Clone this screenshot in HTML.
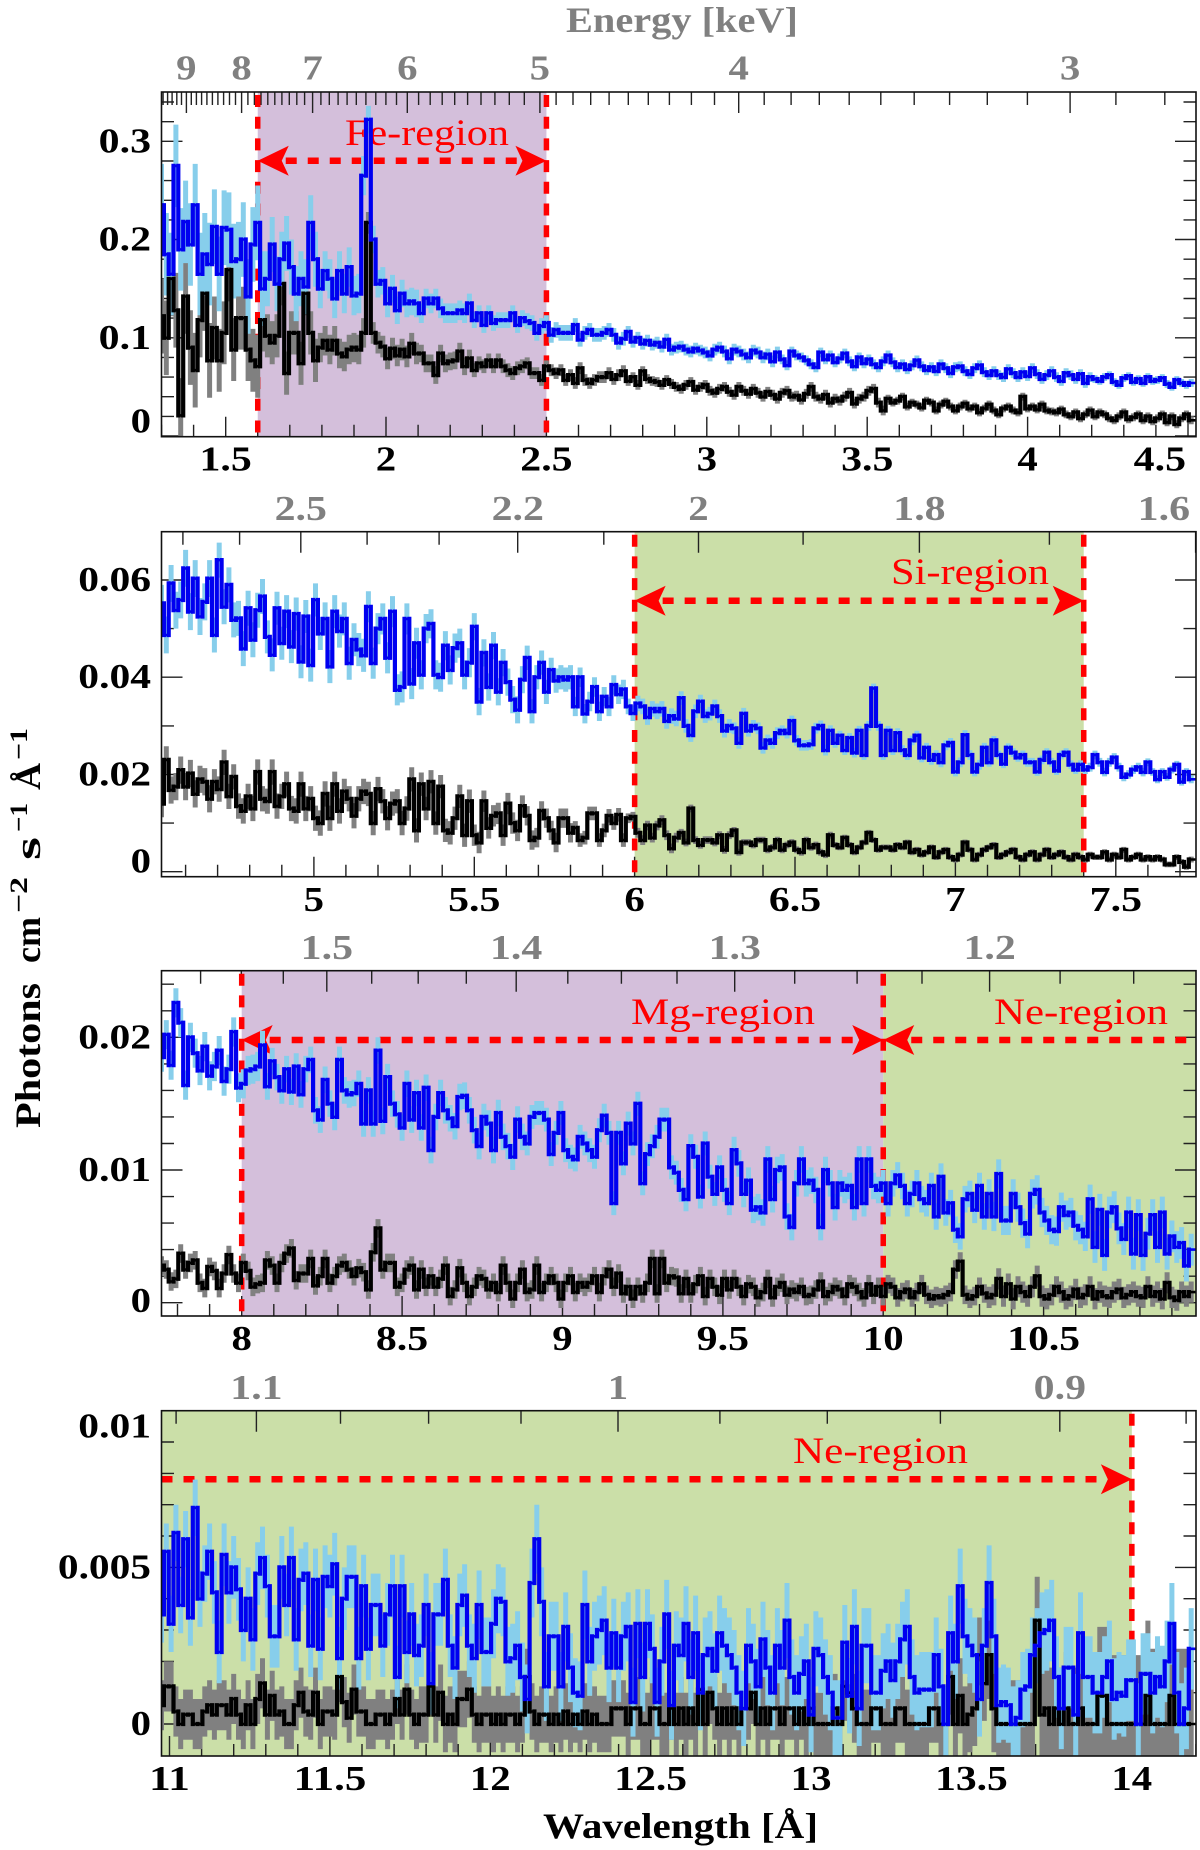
<!DOCTYPE html>
<html lang="en">
<head>
<meta charset="utf-8">
<title>X-ray spectrum by wavelength</title>
<style>
html,body{margin:0;padding:0;background:#fff;width:1200px;height:1850px;overflow:hidden}
svg{display:block}
text{font-family:"Liberation Serif",serif}
.tk{font-weight:bold;font-size:35px}
.ttl{font-weight:bold;font-size:36px}
.sup{font-weight:bold;font-size:25px}
</style>
</head>
<body>
<svg id="chart" width="1200" height="1850" viewBox="0 0 1200 1850">
<text class="ttl" x="566" y="32" fill="#808080" textLength="232" lengthAdjust="spacingAndGlyphs">Energy [keV]</text>
<text class="ttl" x="543" y="1838" fill="#000" textLength="275" lengthAdjust="spacingAndGlyphs">Wavelength [Å]</text>
<g transform="translate(40,0) rotate(-90)">
<text class="ttl" x="-1128" y="0" fill="#000" textLength="145" lengthAdjust="spacingAndGlyphs">Photons</text>
<text class="ttl" x="-963" y="0" fill="#000" textLength="46" lengthAdjust="spacingAndGlyphs">cm</text>
<text class="sup" x="-913" y="-13" fill="#000" textLength="36" lengthAdjust="spacingAndGlyphs">−2</text>
<text class="ttl" x="-860" y="0" fill="#000" textLength="23" lengthAdjust="spacingAndGlyphs">s</text>
<text class="sup" x="-832" y="-13" fill="#000" textLength="29" lengthAdjust="spacingAndGlyphs">−1</text>
<text class="ttl" x="-790" y="0" fill="#000" textLength="27" lengthAdjust="spacingAndGlyphs">Å</text>
<text class="sup" x="-760" y="-13" fill="#000" textLength="32" lengthAdjust="spacingAndGlyphs">−1</text>
</g>
</svg>
<script>
// Wavelength labels (Å)
const p1WaveLabels=[1.5,2,2.5,3,3.5,4,4.5];
const p2WaveLabels=[5,5.5,6,6.5,7,7.5];
const p3WaveLabels=[8,8.5,9,9.5,10,10.5];
const p4WaveLabels=[11,11.5,12,12.5,13,13.5,14];
// Energy labels (keV)
const p1EnergyLabels=[9,8,7,6,5,4,3];
const p2EnergyLabels=[2.5,2.2,2,1.8,1.6];
const p3EnergyLabels=[1.5,1.4,1.3,1.2];
const p4EnergyLabels=[1.1,1,0.9];
// Flux labels
const p1FluxLabels=["0","0.1","0.2","0.3"];
const p2FluxLabels=["0","0.02","0.04","0.06"];
const p3FluxLabels=["0","0.01","0.02"];
const p4FluxLabels=["0","0.005","0.01"];

// Panel 1 values, units of 0.001
const p1Blue=[
235,185,165,275,190,218,195,235,165,185,
175,213,165,212,210,178,180,200,142,195,
217,150,160,195,155,180,196,172,145,160,
152,217,180,150,168,160,140,168,145,172,
143,145,265,322,200,155,158,135,150,128,
145,135,137,135,125,140,135,140,130,125,
125,125,128,125,135,118,125,113,125,115,
118,118,118,125,113,120,117,115,105,112,
115,103,108,105,105,105,113,98,105,108,
103,103,105,108,103,95,99,106,96,100,
94,97,93,95,91,98,88,90,91,88,
86,89,87,85,82,88,90,86,79,88,
86,83,80,87,85,80,83,76,85,78,
72,86,82,80,77,73,70,85,78,82,
75,79,84,76,71,80,74,78,73,70,
76,82,75,70,73,68,72,77,71,67,
70,66,73,69,64,70,71,66,63,69,
72,65,62,66,62,60,68,64,60,65,
61,69,63,58,62,66,60,56,64,62,
58,63,54,60,58,56,60,62,55,52,
59,61,55,58,54,60,56,57,59,53,
50,57,54,52,54];
const p1Black=[
122,100,160,128,21,142,90,67,118,145,
77,110,77,105,169,88,120,120,88,77,
71,118,102,95,102,155,64,105,105,74,
145,105,77,90,97,88,97,84,81,88,
90,88,105,217,105,95,91,79,89,82,
88,81,94,84,84,74,74,62,84,74,
76,77,86,71,79,67,74,71,77,71,
77,71,67,64,69,71,74,64,64,57,
71,67,64,67,57,62,54,69,57,54,
57,60,60,64,58,62,66,56,60,52,
66,58,56,55,52,57,53,50,48,52,
55,47,50,52,46,44,48,50,45,42,
50,46,43,48,44,40,45,42,38,44,
46,40,41,37,43,50,40,38,42,34,
38,36,40,44,33,38,40,46,48,34,
26,38,34,36,40,30,34,32,29,36,
34,26,32,35,30,26,30,33,28,30,
24,28,32,26,22,28,30,26,24,40,
28,30,27,32,26,25,24,27,22,20,
24,18,22,26,20,24,22,18,16,20,
24,17,19,22,16,20,15,18,22,14,
20,12,18,22,16];
const p1BlueErr=[42,38,28,20,14,10,8,8,7,6,6,6,5,5,5,5,5,5,4,4];
const p1BlackErr=[38,32,22,15,11,9,7,6,6,5,5,5,5,5,4,4,4,4,4,4];

// Panel 2 values, units of 0.0001
const p2Blue=[
552,487,593,538,559,624,535,603,525,555,
603,487,641,545,590,518,521,459,542,477,
538,566,483,446,542,470,535,463,530,432,
525,425,559,490,520,422,535,495,520,429,
477,457,445,545,429,500,520,440,535,374,
380,520,387,470,405,500,510,405,400,465,
415,460,470,405,430,504,350,450,380,465,
370,430,390,354,333,395,440,330,400,430,
370,415,393,400,395,400,340,400,325,350,
380,330,360,340,384,365,375,340,326,346,
340,318,335,330,335,310,320,315,357,300,
281,330,350,320,325,340,320,290,300,295,
265,325,290,300,295,255,270,265,285,290,
285,310,270,260,260,262,295,300,250,290,
265,280,250,275,245,290,240,300,377,300,
240,290,250,285,250,240,270,280,235,255,
230,240,225,260,265,206,225,281,240,206,
220,255,225,270,240,222,255,245,235,240,
225,225,206,230,245,225,208,240,245,220,
210,220,210,215,240,225,205,225,235,215,
195,200,210,215,205,225,205,190,205,195,
210,220,185,205,190];
const p2Black=[
140,230,168,175,209,175,202,160,190,185,
150,185,170,225,155,195,135,125,155,130,
205,150,145,205,135,155,180,130,125,180,
130,150,110,100,160,110,180,125,165,150,
115,150,165,160,100,170,145,110,140,145,
100,130,190,85,180,130,185,100,175,85,
80,110,155,75,145,75,60,145,90,115,
120,75,140,100,85,135,115,65,70,125,
110,85,60,110,110,80,90,65,70,120,
120,65,85,115,100,117,65,110,113,80,
65,95,70,95,106,75,48,70,80,60,
130,65,55,65,65,60,75,45,75,85,
40,60,60,55,65,65,45,50,65,45,
55,60,45,40,65,50,55,40,35,75,
55,50,70,55,40,50,60,80,65,45,
50,50,45,55,50,60,40,45,35,40,
50,30,40,45,30,25,35,60,45,25,
35,45,50,55,30,35,40,45,30,25,
35,40,25,35,45,30,35,40,30,25,
35,30,25,35,30,30,40,25,35,30,
45,25,30,35,25,30,25,30,25,15,
15,30,20,10,25];
const p2BlueErr=[38,36,34,34,32,30,28,25,20,16,14,12,11,10,10,10,9,9,9,8];
const p2BlackErr=[28,26,26,26,25,24,22,20,14,10,8,7,7,6,6,6,6,6,6,6];

// Panel 3 values, units of 0.0001
const p3Blue=[
185,202,179,226,211,164,200,188,175,193,
171,178,190,167,176,204,162,165,175,176,
178,194,163,182,170,160,176,159,178,157,
176,183,145,138,168,150,140,183,160,157,
158,165,135,160,135,190,137,170,150,142,
132,165,138,158,132,162,115,140,158,145,
139,133,155,156,145,130,118,140,135,115,
143,125,118,110,138,125,120,140,143,143,
138,112,128,143,115,110,108,125,120,115,
110,130,141,128,75,128,105,135,120,150,
90,112,118,125,138,138,102,98,85,78,
118,110,80,120,95,82,102,85,75,115,
105,82,92,70,72,68,108,78,100,102,
65,57,90,108,90,92,85,57,100,90,
72,90,85,88,72,108,75,108,88,85,
90,75,90,96,88,75,82,90,78,75,
88,65,95,68,75,55,50,78,82,70,
88,65,82,65,97,62,62,82,72,60,
52,82,85,68,62,55,54,72,66,68,
58,55,50,78,42,70,36,68,72,56,
48,68,37,66,36,52,66,42,68,37,
50,42,45,28,40];
const p3Black=[
28,25,16,18,37,25,30,32,15,11,
27,24,11,22,36,22,15,30,24,12,
14,15,32,28,15,30,37,41,17,22,
22,33,13,20,33,15,20,28,30,25,
20,26,23,10,38,56,25,30,30,12,
15,25,28,10,25,12,20,12,18,28,
5,10,26,15,5,12,20,18,10,15,
8,28,15,3,15,25,8,10,28,8,
15,20,15,3,15,20,8,15,12,15,
20,8,20,25,12,22,7,12,3,12,
7,15,33,7,33,15,20,19,7,18,
7,14,20,5,18,12,6,18,10,18,
12,5,14,12,4,8,18,4,12,15,
6,10,8,12,5,6,10,16,5,8,
12,10,5,14,12,8,4,14,6,12,
5,14,12,4,8,10,4,8,14,6,
3,5,4,6,8,25,31,6,3,5,
12,7,4,6,18,5,14,3,12,8,
5,12,20,5,3,6,12,8,3,5,
10,4,6,12,3,8,5,4,8,10,
4,6,8,5,4,12,5,8,3,15,
4,2,8,5,8];
const p3BlueErr=[11,11,10,10,10,10,10,9,9,9,9,10,10,10,10,10,11,11,12,12];
const p3BlackErr=[7,7,7,7,7,7,7,7,7,7,7,7,7,7,7,7,8,8,8,8];

// Panel 4 values, units of 0.0001
const p4Blue=[
35,55,32,61,38,59,34,69,40,48,
55,42,23,54,42,50,43,30,40,27,
48,53,44,28,28,50,38,53,27,46,
48,25,46,24,47,44,51,21,40,47,
47,21,44,24,38,38,25,35,44,15,
44,23,35,22,25,38,13,35,35,46,
25,18,38,41,25,21,38,23,23,32,
40,39,20,21,25,15,8,45,59,39,
12,28,28,12,31,18,10,9,38,20,
28,30,33,18,29,18,28,31,7,32,
15,32,24,7,20,35,6,25,22,32,
15,29,10,22,24,17,29,25,22,18,
10,5,25,20,12,27,18,10,25,18,
33,15,10,16,20,3,24,22,15,10,
2,2,26,9,31,5,25,25,10,10,
17,20,14,20,27,31,15,10,11,11,
11,22,12,0,29,20,44,28,25,22,
8,25,45,28,6,7,6,0,2,11,
12,22,25,29,30,33,15,5,18,18,
3,29,15,15,10,10,15,20,8,10,
9,14,14,0,16,16,10,15,12,20,
32,10,0,5,24];
const p4Black=[
6,12,12,4,0,3,3,0,0,4,
6,3,6,6,3,8,3,0,6,0,
8,13,3,9,3,4,0,0,6,10,
4,3,10,0,4,4,3,15,7,2,
11,4,4,0,0,3,3,0,3,8,
3,11,3,0,3,3,12,3,10,0,
3,0,8,8,11,3,0,3,3,0,
3,0,3,3,0,3,15,4,0,3,
3,0,3,0,4,0,3,0,4,0,
3,0,0,0,5,5,5,0,5,5,
0,0,5,5,0,0,5,0,5,0,
5,0,11,0,10,5,0,5,0,5,
0,5,5,10,0,5,0,5,5,0,
5,5,0,5,0,5,0,0,0,0,
5,0,12,10,5,0,0,0,5,5,
0,0,0,5,5,0,0,0,0,0,
5,5,0,0,15,0,9,0,3,5,
22,13,22,5,0,0,0,0,0,0,
0,0,33,3,5,0,5,0,5,0,
0,5,0,0,0,9,9,0,0,0,
0,0,0,0,0,9,0,0,0,0,
9,0,0,0,0];
const p4BlueErr=[9,10,10,10,10,10,11,11,11,11,12,12,12,12,12,12,12,13,13,13];
const p4BlackErr=[8,8,8,8,8,9,9,9,9,10,10,10,10,11,11,12,14,18,22,24];

const PURPLE='#d4bfdb', GREEN='#cbdfa8', RED='#ff0000';
const HC=12.398;

const panels=[
 {n:1,xMin:1.3,xMax:4.525,top:92,bottom:436.7,yMin:-0.0007,yMax:0.3502,unit:1e-3,
  minor:0.02,every:5,topStep:0.1,topBase:79.5,botBase:470.7,
  blue:p1Blue,black:p1Black,blueErr:p1BlueErr,blackErr:p1BlackErr,
  waves:p1WaveLabels,energies:p1EnergyLabels,flux:p1FluxLabels,
  bands:[{from:1.6,to:2.5,fill:PURPLE}],
  walls:[1.6,2.5],arrowY:160.7,
  arrows:[{from:1.6,to:2.5,headL:true,headR:true}],
  notes:[{t:"Fe-region",x:345,w:164,y:145}]},
 {n:2,xMin:4.525,xMax:7.75,top:531.7,bottom:876.7,yMin:-0.00103,yMax:0.06994,unit:1e-4,
  minor:0.01,every:2,topStep:0.1,topBase:520,botBase:911,
  blue:p2Blue,black:p2Black,blueErr:p2BlueErr,blackErr:p2BlackErr,
  waves:p2WaveLabels,energies:p2EnergyLabels,flux:p2FluxLabels,
  bands:[{from:6,to:7.4,fill:GREEN}],
  walls:[6,7.4],arrowY:600.7,
  arrows:[{from:6,to:7.4,headL:true,headR:true}],
  notes:[{t:"Si-region",x:891,w:158,y:584}]},
 {n:3,xMin:7.75,xMax:10.975,top:970.7,bottom:1316,yMin:-0.001,yMax:0.02502,unit:1e-4,
  minor:0.002,every:5,topStep:0.025,topBase:959,botBase:1350,
  blue:p3Blue,black:p3Black,blueErr:p3BlueErr,blackErr:p3BlackErr,
  waves:p3WaveLabels,energies:p3EnergyLabels,flux:p3FluxLabels,
  bands:[{from:8,to:10,fill:PURPLE},{from:10,to:10.975,fill:GREEN}],
  walls:[8,10],arrowY:1040,
  arrows:[{from:8,to:10,headL:true,headR:true},{from:10,to:10.975,headL:true,headR:false}],
  notes:[{t:"Mg-region",x:631,w:184,y:1024},{t:"Ne-region",x:994,w:174,y:1024}]},
 {n:4,xMin:10.975,xMax:14.2,top:1410.7,bottom:1756,yMin:-0.00102,yMax:0.01,unit:1e-4,
  minor:0.001,every:5,topStep:0.025,topBase:1399,botBase:1790,
  blue:p4Blue,black:p4Black,blueErr:p4BlueErr,blackErr:p4BlackErr,
  waves:p4WaveLabels,energies:p4EnergyLabels,flux:p4FluxLabels,
  bands:[{from:10.975,to:14,fill:GREEN}],
  walls:[14],arrowY:1479.3,
  arrows:[{from:10.975,to:14,headL:false,headR:true}],
  notes:[{t:"Ne-region",x:793,w:175,y:1463}]}
];

const PLOT_L=161.5, PLOT_R=1196;
const svg=document.getElementById('chart');
const NS=svg.namespaceURI;
function make(tag,attrs,parent){
  const el=document.createElementNS(NS,tag);
  for(const k in attrs) el.setAttribute(k,attrs[k]);
  parent.appendChild(el);
  return el;
}
function labelWidth(s){
  let w=0;
  for(const c of String(s)) w+=(c==='.')?11.5:20.4;
  return w;
}
function addLabel(parent,s,x,y,fill){
  const w=labelWidth(s);
  const el=make('text',{class:'tk',x:x.toFixed(1),y:y.toFixed(1),fill:fill,textLength:w.toFixed(1),lengthAdjust:'spacingAndGlyphs'},parent);
  el.textContent=String(s);
  return el;
}

panels.forEach(function(p){
  const X=function(v){return PLOT_L+(v-p.xMin)/(p.xMax-p.xMin)*(PLOT_R-PLOT_L);};
  const Y=function(v){return p.bottom-(v-p.yMin)/(p.yMax-p.yMin)*(p.bottom-p.top);};
  const g=make('g',{},svg);
  
  
  const clipId='clip-'+p.n;
  const defs=make('defs',{},g);
  const cp=make('clipPath',{id:clipId},defs);
  make('rect',{x:PLOT_L,y:p.top,width:PLOT_R-PLOT_L,height:p.bottom-p.top},cp);
  const plot=make('g',{'clip-path':'url(#'+clipId+')'},g);
  
  

  // shaded bands
  p.bands.forEach(function(b,i){
    const r=make('rect',{x:X(b.from),y:p.top,width:X(b.to)-X(b.from),height:p.bottom-p.top,fill:b.fill},plot);
    
    
  });

  // ticks
  let d='';
  const kLo=Math.ceil(p.xMin*10-1e-6), kHi=Math.floor(p.xMax*10+1e-6);
  for(let k=kLo;k<=kHi;k++){
    const len=(k%5===0)?20:12;
    d+='M'+X(k/10).toFixed(1)+' '+p.bottom+'v'+(-len);
  }
  const eLo=Math.ceil(HC/p.xMax/p.topStep-1e-6), eHi=Math.floor(HC/p.xMin/p.topStep+1e-6);
  for(let k=eLo;k<=eHi;k++){
    const e=k*p.topStep;
    const isMajor=p.energies.some(function(v){return Math.abs(v-e)<1e-6;});
    const len=isMajor?21:13;
    d+='M'+X(HC/e).toFixed(1)+' '+p.top+'v'+len;
  }
  const yKMax=Math.floor(p.yMax/p.minor+1e-6);
  for(let k=0;k<=yKMax;k++){
    const len=(k%p.every===0)?21:12.5;
    const yy=Y(k*p.minor).toFixed(1);
    d+='M'+PLOT_L+' '+yy+'h'+len+'M'+PLOT_R+' '+yy+'h'+(-len);
  }
  const tickPath=make('path',{d:d,stroke:'#222','stroke-width':1.4,fill:'none'},plot);
  
  

  // dashed region boundaries
  p.walls.forEach(function(w,i){
    const l=make('line',{x1:X(w),x2:X(w),y1:p.top+3,y2:p.bottom,stroke:RED,'stroke-width':5.5,'stroke-dasharray':'12 9.7'},plot);
    
    
  });

  // arrows
  p.arrows.forEach(function(a,i){
    const x1=X(a.from), x2=X(a.to), ay=p.arrowY;
    const l=make('line',{x1:x1+(a.headL?28:0),x2:x2-(a.headR?28:0),y1:ay,y2:ay,stroke:RED,'stroke-width':6.5,'stroke-dasharray':'11 11'},plot);
    
    
    if(a.headL){
      const h=make('polygon',{points:[x1,ay,x1+31,ay-15,x1+24,ay,x1+31,ay+15].join(' '),fill:RED},plot);
      
      
    }
    if(a.headR){
      const h=make('polygon',{points:[x2,ay,x2-31,ay-15,x2-24,ay,x2-31,ay+15].join(' '),fill:RED},plot);
      
      
    }
  });

  // region names
  p.notes.forEach(function(nt,i){
    const t=make('text',{x:nt.x,y:nt.y,fill:RED,'font-size':37,textLength:nt.w,lengthAdjust:'spacingAndGlyphs'},plot);
    t.textContent=nt.t;
    
    
  });

  // data: each value is drawn centred on its bin position
  function binEdge(i,n){
    if(i<=0) return X(p.xMin);
    if(i>=n) return X(p.xMax);
    return X(p.xMin+(i-0.5)*(p.xMax-p.xMin)/n);
  }
  function errPath(vals,errs){
    const n=vals.length, bw=(p.xMax-p.xMin)/n;
    let s='';
    vals.forEach(function(v,i){
      const e=errs[Math.floor(i*errs.length/n)];
      const xc=X(p.xMin+i*bw).toFixed(1);
      s+='M'+xc+' '+Y((v+e)*p.unit).toFixed(1)+'V'+Y((v-e)*p.unit).toFixed(1);
    });
    return s;
  }
  function horizontalRuns(vals){
    const n=vals.length;
    let s='';
    vals.forEach(function(v,i){
      s+='M'+binEdge(i,n).toFixed(1)+' '+Y(v*p.unit).toFixed(1)+'H'+binEdge(i+1,n).toFixed(1);
    });
    return s;
  }
  function verticalRuns(vals){
    const n=vals.length;
    let s='';
    for(let i=1;i<n;i++){
      s+='M'+binEdge(i,n).toFixed(1)+' '+Y(vals[i-1]*p.unit).toFixed(1)+'V'+Y(vals[i]*p.unit).toFixed(1);
    }
    return s;
  }
  const grayErr=make('path',{d:errPath(p.black,p.blackErr),stroke:'#808080','stroke-width':5,fill:'none'},plot);
  
  
  const skyErr=make('path',{d:errPath(p.blue,p.blueErr),stroke:'#87ceeb','stroke-width':5,fill:'none'},plot);
  
  
  const blackRuns=make('path',{d:horizontalRuns(p.black),stroke:'#000','stroke-width':2.6,fill:'none'},plot);
  
  
  const blackRises=make('path',{d:verticalRuns(p.black),stroke:'#000','stroke-width':4.2,fill:'none','stroke-linecap':'square'},plot);
  
  
  const blueRuns=make('path',{d:horizontalRuns(p.blue),stroke:'#0000f0','stroke-width':2.6,fill:'none'},plot);
  
  
  const blueRises=make('path',{d:verticalRuns(p.blue),stroke:'#0000f0','stroke-width':4.2,fill:'none','stroke-linecap':'square'},plot);
  
  

  // frame
  const frame=make('rect',{x:PLOT_L,y:p.top,width:PLOT_R-PLOT_L,height:p.bottom-p.top,fill:'none',stroke:'#111','stroke-width':1.6},g);
  
  

  // tick labels
  p.waves.forEach(function(v){
    const w=labelWidth(v);
    let cx=X(v);
    if(cx+w/2>1186) cx=1186-w/2;
    const t=addLabel(g,v,cx-w/2,p.botBase,'#000');
    
    
  });
  p.energies.forEach(function(v){
    const w=labelWidth(v);
    let cx=X(HC/v);
    if(cx+w/2>1190) cx=1190-w/2;
    const t=addLabel(g,v,cx-w/2,p.topBase,'#808080');
    
    
  });
  p.flux.forEach(function(s){
    const w=labelWidth(s);
    let base=Y(parseFloat(s))+11;
    base=Math.max(p.top+27,Math.min(p.bottom-4,base));
    const t=addLabel(g,s,151-w,base,'#000');
    
    
  });
});
</script>
</body>
</html>
